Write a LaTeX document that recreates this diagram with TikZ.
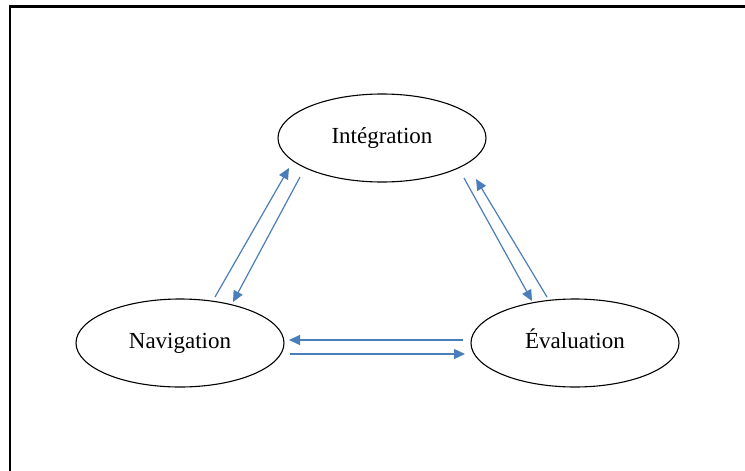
\documentclass[tikz,border=0pt]{standalone}
\usepackage{fontspec}
\setmainfont{Liberation Serif}
\usetikzlibrary{shapes.geometric,arrows.meta}
\definecolor{arrowblue}{HTML}{4A7EBB}
\begin{document}
\begin{tikzpicture}[x=1pt,y=-1pt,
  phase/.style={draw=black,line width=1.1pt,ellipse,minimum width=208pt,minimum height=88pt,inner sep=0pt,text height=15pt,text depth=5pt,font=\fontsize{23}{26}\selectfont},
  link/.style={draw=arrowblue,line width=1.2pt,-{Triangle[length=11pt,width=10pt]}}]
\useasboundingbox (0,0) rectangle (745,471);
\draw[line width=2.2pt] (10,471) -- (10,6.5) -- (745,6.5);
\node[phase] (int) at (382,138) {Intégration};
\node[phase] (nav) at (180,343) {Navigation};
\node[phase] (eva) at (575,343) {Évaluation};
\coordinate (a1s) at (215,297); \coordinate (a1e) at (289,168);
\coordinate (a2s) at (300,177); \coordinate (a2e) at (233,302);
\coordinate (b1s) at (464,178); \coordinate (b1e) at (532,301);
\coordinate (b2s) at (547,297); \coordinate (b2e) at (476,179);
\coordinate (c1s) at (463,340); \coordinate (c1e) at (289,340);
\coordinate (c2s) at (290,354); \coordinate (c2e) at (465,354);
\draw[link] (a1s) -- (a1e);
\draw[link] (a2s) -- (a2e);
\draw[link] (b1s) -- (b1e);
\draw[link] (b2s) -- (b2e);
\draw[link] (c1s) -- (c1e);
\draw[link] (c2s) -- (c2e);
\end{tikzpicture}
\end{document}
